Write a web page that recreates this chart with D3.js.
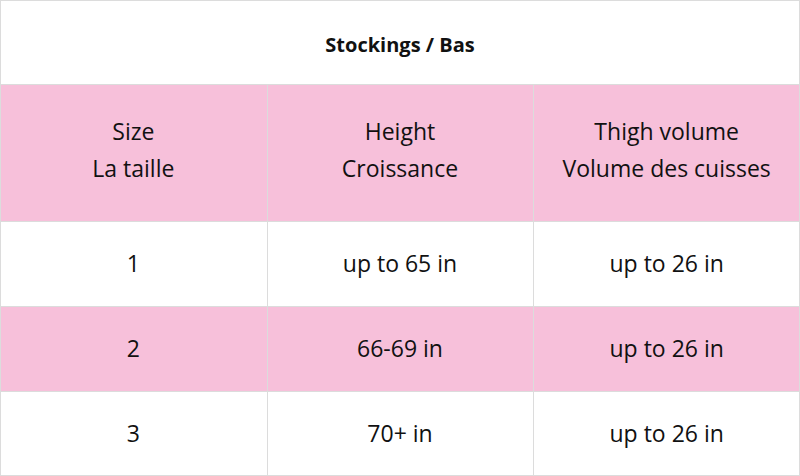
<!DOCTYPE html>
<html><head><meta charset="utf-8">
<script src="https://cdn.jsdelivr.net/npm/d3@7"></script>
<style>body{margin:0;background:#fff}</style></head>
<body><svg id="c" width="800" height="476"></svg>
<script>
const title = "Stockings / Bas";
const headers = [["Size","La taille"],["Height","Croissance"],["Thigh volume","Volume des cuisses"]];
const sizes = ["1","2","3"];
const heights = ["up to 65 in","66-69 in","70+ in"];
const thighs = ["up to 26 in","up to 26 in","up to 26 in"];

const svg = d3.select("#c");
const W = 800, font = "'Open Sans', sans-serif";
const x = d3.scaleLinear().domain([0,3]).range([0,800]);
const rowEdges = [0,84,221,306,391,476];
const pink = "#f7c0da", line = "#dcdcdc";
const rowFill = ["#fff", pink, "#fff", pink, "#fff"];

svg.selectAll("rect.row").data(rowFill).join("rect")
  .attr("x",0).attr("width",W)
  .attr("y",(d,i)=>rowEdges[i]).attr("height",(d,i)=>rowEdges[i+1]-rowEdges[i])
  .attr("fill",d=>d);

// horizontal lines
svg.selectAll("line.h").data(rowEdges.slice(1,-1)).join("line")
  .attr("x1",0).attr("x2",W).attr("y1",d=>d+0.5).attr("y2",d=>d+0.5)
  .attr("stroke",line);
// vertical lines
svg.selectAll("line.v").data([1,2]).join("line")
  .attr("x1",d=>Math.round(x(d))+0.5).attr("x2",d=>Math.round(x(d))+0.5)
  .attr("y1",84).attr("y2",476).attr("stroke",line);
svg.append("rect").attr("x",0.5).attr("y",0.5).attr("width",W-1).attr("height",475)
  .attr("fill","none").attr("stroke",line);

svg.append("text").attr("x",W/2).attr("y",52).attr("text-anchor","middle")
  .attr("font-family",font).attr("font-weight","bold").attr("font-size",20).attr("fill","#111").text(title);

const cx = i => (x(i)+x(i+1))/2;
headers.forEach((h,i)=>{
  h.forEach((t,j)=>{
    svg.append("text").attr("x",cx(i)).attr("y",140+j*37).attr("text-anchor","middle")
      .attr("font-family",font).attr("font-size",23).attr("fill","#111").text(t);
  });
});
const cols=[sizes,heights,thighs];
cols.forEach((col,i)=>col.forEach((t,r)=>{
  const yc=(rowEdges[r+2]+rowEdges[r+3])/2;
  svg.append("text").attr("x",cx(i)).attr("y",yc+8).attr("text-anchor","middle")
    .attr("font-family",font).attr("font-size",23).attr("fill","#111").text(t);
}));
</script></body></html>
